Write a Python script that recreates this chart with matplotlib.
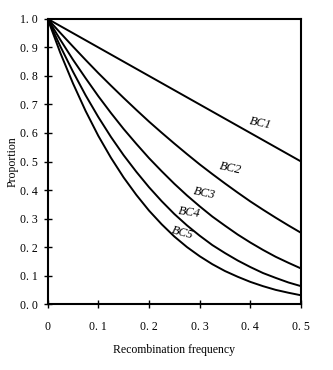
import matplotlib
matplotlib.use("Agg")
import matplotlib.pyplot as plt

# values
rec_freq = [0, 0.025, 0.05, 0.075, 0.1, 0.125, 0.15, 0.175, 0.2, 0.225, 0.25,
            0.275, 0.3, 0.325, 0.35, 0.375, 0.4, 0.425, 0.45, 0.475, 0.5]
bc1 = [1.0, 0.975, 0.95, 0.925, 0.90, 0.875, 0.85, 0.825, 0.80, 0.775, 0.75,
       0.725, 0.70, 0.675, 0.65, 0.625, 0.60, 0.575, 0.55, 0.525, 0.50]
bc2 = [1.0, 0.951, 0.903, 0.856, 0.81, 0.766, 0.723, 0.681, 0.64, 0.601, 0.563,
       0.526, 0.49, 0.456, 0.423, 0.391, 0.36, 0.331, 0.303, 0.276, 0.25]
bc3 = [1.0, 0.927, 0.857, 0.792, 0.729, 0.670, 0.614, 0.562, 0.512, 0.466, 0.422,
       0.381, 0.343, 0.307, 0.275, 0.244, 0.216, 0.190, 0.166, 0.145, 0.125]
bc4 = [1.0, 0.904, 0.815, 0.732, 0.656, 0.586, 0.522, 0.464, 0.410, 0.361, 0.316,
       0.276, 0.240, 0.207, 0.179, 0.153, 0.130, 0.109, 0.092, 0.076, 0.063]
bc5 = [1.0, 0.881, 0.774, 0.677, 0.590, 0.513, 0.444, 0.383, 0.328, 0.280, 0.237,
       0.200, 0.168, 0.140, 0.116, 0.096, 0.078, 0.063, 0.050, 0.040, 0.031]
series = [bc1, bc2, bc3, bc4, bc5]
names = ["BC1", "BC2", "BC3", "BC4", "BC5"]

xticks = [0, 0.1, 0.2, 0.3, 0.4, 0.5]
xticklabels = ["0", "0. 1", "0. 2", "0. 3", "0. 4", "0. 5"]
yticks = [0.0, 0.1, 0.2, 0.3, 0.4, 0.5, 0.6, 0.7, 0.8, 0.9, 1.0]
yticklabels = ["0. 0", "0. 1", "0. 2", "0. 3", "0. 4", "0. 5",
               "0. 6", "0. 7", "0. 8", "0. 9", "1. 0"]

# label spots (x, y, angle)
label_pos = [(0.42, 0.635, -12), (0.36, 0.475, -12), (0.31, 0.39, -12),
             (0.28, 0.32, -8), (0.265, 0.25, -15)]

plt.rcParams['font.family'] = ['Liberation Serif', 'DejaVu Serif']

fig = plt.figure(figsize=(3.33, 3.70), dpi=100)
ax = fig.add_axes([0.143, 0.178, 0.761, 0.771])

for s in series:
    ax.plot(rec_freq, s, color='black', lw=1.4)

for name, (lx, ly, ang) in zip(names, label_pos):
    ax.text(lx, ly, name, fontsize=9, style='italic', rotation=ang,
            ha='center', va='center')

ax.set_xlim(0, 0.5)
ax.set_ylim(0, 1.0)
ax.set_xticks(xticks)
ax.set_xticklabels(xticklabels, fontsize=8.5)
ax.set_yticks(yticks)
ax.set_yticklabels(yticklabels, fontsize=8.5)
ax.tick_params(direction='inout', length=6, width=1.0)
ax.tick_params(axis='x', pad=9)
ax.tick_params(axis='y', pad=4)
for sp in ax.spines.values():
    sp.set_linewidth(1.5)

ax.set_xlabel("Recombination frequency", fontsize=8.5, labelpad=8)
ax.set_ylabel("Proportion", fontsize=8.5, labelpad=1)

fig.savefig("out.png", dpi=100)
